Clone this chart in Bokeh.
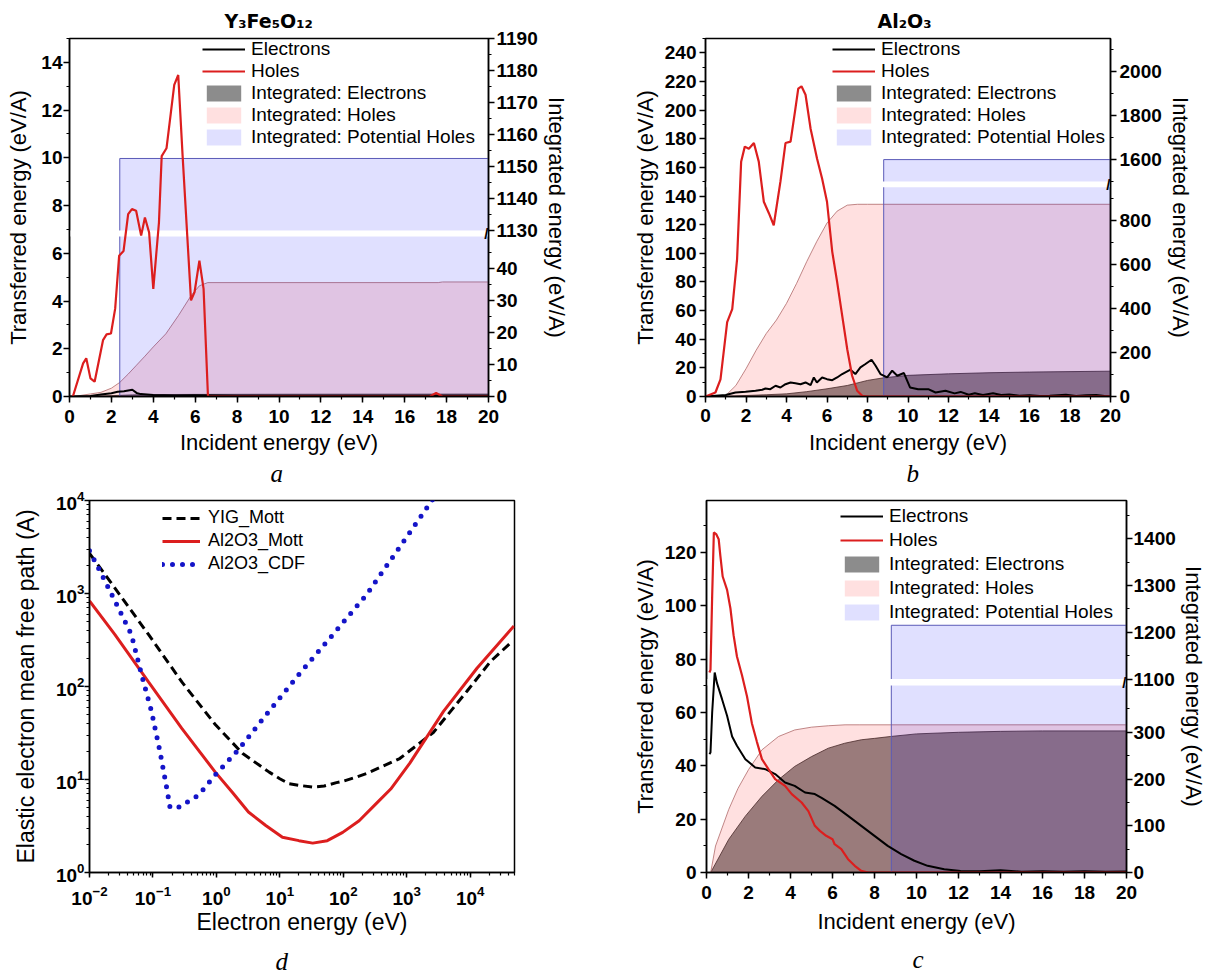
from bokeh.plotting import figure
from bokeh.models import (Range1d, LinearAxis, FixedTicker, SingleIntervalTicker,
                          CustomJSTickFormatter, CustomJSTransform, ColumnDataSource,
                          Legend, LegendItem, Label, BoxAnnotation, Title)
from bokeh.transform import transform
from bokeh.layouts import row, column
from bokeh.embed import file_html
from bokeh.resources import INLINE

# ======================= DATA =======================
# ---- (a) Y3Fe5O12 ----
a_holes_x = [0.16, 0.65, 0.8, 1.0, 1.2, 1.6, 1.77, 1.98, 2.18, 2.37, 2.58, 2.8, 2.98, 3.18, 3.42, 3.6,
             3.8, 4.0, 4.27, 4.4, 4.63, 4.84, 5.0, 5.19, 5.4, 5.8, 5.97, 6.2, 6.4, 6.61, 8, 10, 12, 14,
             16, 17.2, 17.5, 17.8, 20]
a_holes_y = [0, 1.39, 1.6, 0.76, 0.62, 2.36, 2.6, 2.64, 3.68, 5.9, 6.1, 7.64, 7.85, 7.78, 6.74, 7.5,
             6.87, 4.51, 7.29, 10.07, 10.4, 11.9, 13.06, 13.47, 10.07, 4.03, 4.38, 5.69, 4.51, 0, 0, 0, 0, 0,
             0, 0, 0.15, 0, 0]
a_el_x = [0, 1.0, 1.5, 2.0, 2.3, 2.6, 3.0, 3.2, 3.4, 4.0, 5, 6, 8, 10, 12, 14, 16, 18, 20]
a_el_y = [0, 0.02, 0.08, 0.14, 0.2, 0.22, 0.28, 0.15, 0.1, 0.06, 0.04, 0.05, 0.03, 0.03, 0.03, 0.03, 0.03, 0.03, 0.03]
a_int_holes_x = [0.3, 0.5, 1.0, 1.5, 2.0, 2.4, 2.8, 3.2, 3.6, 4.0, 4.6, 5.2, 5.8, 6.2, 6.6, 17.6, 17.8, 20]
a_int_holes_y = [0, 0.3, 0.8, 1.3, 2.6, 4.4, 7.0, 9.8, 12.6, 15.5, 19.6, 25.3, 31.5, 34.6, 35.6, 35.6, 35.8, 35.8]
a_int_el_x = [0, 1, 2, 3, 4, 6, 10, 20]
a_int_el_y = [0, 0.05, 0.25, 0.5, 0.6, 0.65, 0.7, 0.75]
a_pot_x = [2.4, 2.4, 20]
a_pot_y = [0, 1152.5, 1152.5]
a_break = [50, 1130, 1190]          # lower-segment top, upper-segment bottom, upper-segment top
a_right_ticks = [0, 10, 20, 30, 40, 1130, 1140, 1150, 1160, 1170, 1180, 1190]
a_right_minor = [5, 15, 25, 35, 45, 1135, 1145, 1155, 1165, 1175, 1185]

# ---- (b) Al2O3 ----
b_holes_x = [0, 0.49, 0.74, 1.07, 1.32, 1.56, 1.76, 1.94, 2.14, 2.39, 2.63, 2.88, 3.13, 3.37, 3.7, 3.95,
             4.2, 4.44, 4.58, 4.74, 4.94, 5.19, 5.51, 5.76, 6.0, 6.26, 6.5, 6.75, 7.0, 7.24, 7.49, 7.74, 8.0, 20]
b_holes_y = [0, 2.8, 12, 52, 61, 96, 164, 174.5, 173, 177, 164, 136, 128, 119.6, 150, 177,
             178, 201, 215, 216.6, 210.7, 187, 166, 152, 136, 101, 80, 56.5, 33, 14.5, 4, 0.5, 0, 0]
b_el_x = [0, 1.0, 1.48, 1.98, 2.47, 2.8, 2.96, 3.2, 3.46, 3.7, 3.95, 4.2, 4.44, 4.69, 4.94, 5.19, 5.35, 5.5,
          5.76, 6.0, 6.26, 6.5, 6.75, 7.16, 7.4, 7.65, 7.9, 8.2, 8.4, 8.64, 8.97, 9.22, 9.47, 9.8, 10.1,
          10.5, 11.0, 11.36, 11.85, 12.3, 12.6, 13.0, 13.3, 13.7, 14.2, 14.6, 15.0, 15.5, 16.0, 16.5,
          17.0, 17.8, 18.3, 18.8, 19.3, 19.7, 20]
b_el_y = [0, 1, 2.8, 3.3, 4, 4.7, 5.6, 5.1, 7.5, 6.3, 8.6, 9.8, 9.3, 8.6, 9.8, 7.9, 13.3, 9.8,
          13.3, 12.1, 11.4, 13.3, 15.7, 18.7, 15.7, 20.3, 22.7, 25.7, 21.5, 15.7, 13.3, 18, 14.5, 16.4, 6.3,
          5.1, 5.1, 2.8, 4, 2.2, 3.2, 1.2, 2.3, 1.0, 2.2, 1.0, 1.4, 0.6, 0.8, 0.4,
          0.6, 1.2, 0.4, 0.8, 1.0, 0.3, 0.2]
b_int_holes_x = [0.8, 1.0, 1.5, 2.0, 2.5, 3.0, 3.5, 4.0, 4.5, 5.0, 5.5, 6.0, 6.5, 7.0, 7.5, 8.0, 20]
b_int_holes_y = [0, 4.5, 50, 126, 210, 286, 347, 423, 514, 613, 705, 788, 842, 869, 873, 873, 873]
b_int_el_x = [0.8, 2, 3, 4, 5, 6, 7, 8, 8.8, 10, 12, 14, 16, 18, 20]
b_int_el_y = [0, 4.5, 8, 12, 22, 35, 50, 73, 85, 96, 103, 108, 111, 113, 115]
b_pot_x = [8.8, 8.8, 20]
b_pot_y = [0, 1600, 1600]
b_break = [950, 1500, 2150]
b_right_ticks = [0, 200, 400, 600, 800, 1600, 1800, 2000]
b_right_minor = [100, 300, 500, 700, 900, 1500, 1700, 1900, 2100]

# ---- (c) ----
c_holes_x = [0.14, 0.19, 0.27, 0.35, 0.46, 0.58, 0.66, 0.77, 0.98, 1.14, 1.29, 1.45, 1.69, 1.93, 2.16, 2.4,
             2.64, 2.95, 3.27, 3.74, 4.06, 4.53, 4.85, 5.16, 5.4, 5.7, 6.0, 6.1, 6.42, 6.74, 7.06, 7.37, 7.7, 20]
c_holes_y = [75, 76, 103.75, 127.5, 126.9, 125, 118.75, 111, 106, 99, 89, 81, 74, 66, 56, 49,
             42.5, 38.75, 35, 32.5, 29.4, 26.25, 23, 17.5, 15.6, 13.75, 12.5, 10.6, 8.75, 5, 2.5, 0.6, 0, 0]
c_el_x = [0.14, 0.19, 0.27, 0.39, 0.5, 0.74, 0.98, 1.22, 1.45, 1.85, 2.32, 2.8, 3.27, 3.74, 4.2, 4.69,
          5.16, 5.48, 6.1, 6.74, 7.37, 8.0, 8.63, 9.27, 9.9, 10.53, 11.32, 12.1, 13, 14, 15, 16, 17, 18, 19, 20]
c_el_y = [44.4, 45, 60, 75, 71, 65, 58.75, 51, 47.5, 42.5, 39.4, 38.75, 36.9, 33.75, 32.5, 30,
          29.4, 28, 25, 21.25, 17.5, 13.75, 10, 6.9, 4.4, 2.5, 1.25, 0.6, 0.5, 0.8, 0.3, 0.5, 0.3, 0.5, 0.3, 0.4]
c_int_holes_x = [0.2, 0.43, 1.06, 1.5, 2.0, 2.64, 3.43, 4.2, 5.0, 5.8, 6.6, 7.3, 20]
c_int_holes_y = [0, 56.7, 135, 180, 220, 262.5, 291, 305, 311, 314, 316, 316, 316]
c_int_el_x = [0.2, 1.06, 1.85, 2.64, 3.43, 4.2, 5.0, 5.8, 6.58, 7.37, 8.0, 8.76, 10, 12, 14, 16, 20]
c_int_el_y = [0, 71, 120.6, 163, 198.7, 227, 248, 266, 276.6, 284, 287, 291, 296.6, 300, 302, 303, 303]
c_pot_x = [8.8, 8.8, 20]
c_pot_y = [0, 1215, 1215]
c_break = [400, 1100, 1482]
c_right_ticks = [0, 100, 200, 300, 1100, 1200, 1300, 1400]
c_right_minor = [50, 150, 250, 350, 1150, 1250, 1350, 1450]

# ---- (d) elastic mean free path ----
d_yig_E = [0.01, 0.025, 0.085, 0.285, 0.96, 2.6, 6.8, 10, 14, 20, 33, 50, 78, 100, 160, 234, 776, 2630, 8900, 21000, 47000]
d_yig_L = [2700, 1150, 363, 112, 39, 19, 12, 10.2, 9.0, 8.65, 8.3, 8.5, 9.25, 9.6, 10.6, 11.6, 16.8, 32, 89, 186, 310]
d_mott_E = [0.01, 0.025, 0.085, 0.285, 0.96, 1.78, 3.2, 6.0, 11, 20, 33, 56, 98, 178, 330, 560, 1120, 3800, 12900, 49000]
d_mott_L = [830, 363, 112, 35.5, 12, 7.3, 4.47, 3.2, 2.39, 2.2, 2.07, 2.2, 2.7, 3.6, 5.5, 7.9, 15, 54, 158, 447]
d_cdf_E = [0.01, 0.0174, 0.0282, 0.0457, 0.066, 0.095, 0.129, 0.166, 0.186, 0.251, 0.525, 0.96, 2.24, 6.0,
           20, 69, 234, 776, 2630]
d_cdf_L = [2880, 1380, 708, 363, 135, 54, 20, 7.9, 5.0, 5.0, 6.8, 11.2, 21, 49, 135, 363, 977, 3160, 10500]

# ======================= STYLE =======================
FONT = "Liberation Sans"
RED = "#dc1e1e"
BLUE_DOT = "#1414c8"


def brk(v, b, gap):
    L, U = b[0], b[1]
    return v if v <= L else v - U + L + gap


def style_axis(ax, lab_so, title_so, title_size="22px", tick_out=6):
    ax.major_label_text_font = FONT
    ax.major_label_text_font_style = "bold"
    ax.major_label_text_font_size = "19px"
    ax.major_label_text_color = "black"
    ax.axis_label_text_font = FONT
    ax.axis_label_text_font_style = "normal"
    ax.axis_label_text_font_size = title_size
    ax.axis_label_text_color = "black"
    ax.axis_line_color = "black"
    ax.axis_line_width = 1.5
    ax.major_tick_line_color = "black"
    ax.major_tick_line_width = 1.5
    ax.minor_tick_line_color = "black"
    ax.minor_tick_line_width = 1.2
    ax.major_tick_in = 0
    ax.major_tick_out = tick_out
    ax.minor_tick_in = 0
    ax.minor_tick_out = 3
    ax.major_label_standoff = lab_so
    ax.axis_label_standoff = title_so


def add_letter(p, letter, offset, spacer):
    p.add_layout(Title(text=" ", text_font_size="1px", standoff=spacer), "below")
    p.add_layout(Title(text=letter, align="left", offset=offset, vertical_align="bottom", standoff=-6,
                       text_font="Liberation Serif", text_font_style="italic",
                       text_font_size="25px", text_color="black"), "below")


def energy_panel(w, h, bl, br, bt, bb, ymax, yint, brk_def, gap, rticks, rminor,
                 hx, hy, ex, ey, ihx, ihy, iex, iey, px, py,
                 leg_xy, leg_spacing, so, title, title_off, letter, letter_off, spacer):
    L, U, Utop = brk_def
    p = figure(width=w, height=h, x_range=Range1d(0, 20), y_range=Range1d(0, ymax),
               output_backend="svg", toolbar_location=None,
               min_border_left=bl, min_border_right=br, min_border_top=bt, min_border_bottom=bb)
    p.extra_y_ranges = {"right": Range1d(0, L + gap + (Utop - U))}
    p.grid.visible = False
    p.outline_line_color = "black"
    p.outline_line_width = 1.5
    p.background_fill_color = "white"
    p.border_fill_color = "white"

    tr = CustomJSTransform(args=dict(L=L, G=gap, U=U),
                           func="return (x <= L) ? x : x - U + L + G",
                           v_func="""
const out = new Float64Array(xs.length)
for (let i = 0; i < xs.length; i++) {
  const v = xs[i]
  out[i] = (v <= L) ? v : v - U + L + G
}
return out
""")
    s_ie = ColumnDataSource(dict(x=iex, y=iey))
    s_ih = ColumnDataSource(dict(x=ihx, y=ihy))
    s_p = ColumnDataSource(dict(x=px, y=py))

    r_ie = p.varea(x="x", y1=0, y2=transform("y", tr), source=s_ie, y_range_name="right",
                   fill_color="black", fill_alpha=0.45, level="image")
    p.line(x="x", y=transform("y", tr), source=s_ie, y_range_name="right",
           line_color="#303030", line_width=0.8, level="image")
    r_ih = p.varea(x="x", y1=0, y2=transform("y", tr), source=s_ih, y_range_name="right",
                   fill_color="#ff0000", fill_alpha=0.12, level="image")
    p.line(x="x", y=transform("y", tr), source=s_ih, y_range_name="right",
           line_color="#b06a6a", line_width=0.8, level="image")
    r_p = p.varea(x="x", y1=0, y2=transform("y", tr), source=s_p, y_range_name="right",
                  fill_color="#0000ff", fill_alpha=0.12, level="image")
    p.line(x="x", y=transform("y", tr), source=s_p, y_range_name="right",
           line_color="#5a5ab8", line_width=1.0, level="image")

    # white gap of the broken right axis
    p.add_layout(BoxAnnotation(bottom=L, top=L + gap, y_range_name="right", fill_color="white",
                               fill_alpha=1.0, line_alpha=0, level="underlay"))

    r_el = p.line(ex, ey, line_color="black", line_width=2)
    r_h = p.line(hx, hy, line_color=RED, line_width=2.2)

    # axes
    p.xaxis.ticker = SingleIntervalTicker(interval=2, num_minor_ticks=2)
    p.yaxis.ticker = SingleIntervalTicker(interval=yint, num_minor_ticks=2)
    p.xaxis.axis_label = "Incident energy (eV)"
    p.yaxis.axis_label = "Transferred energy (eV/A)"
    style_axis(p.xaxis[0], so["x"][0], so["x"][1])
    style_axis(p.yaxis[0], so["l"][0], so["l"][1])

    ax_r = LinearAxis(y_range_name="right", axis_label="Integrated energy (eV/A)",
                      ticker=FixedTicker(ticks=[brk(t, brk_def, gap) for t in rticks],
                                         minor_ticks=[brk(t, brk_def, gap) for t in rminor]),
                      formatter=CustomJSTickFormatter(
                          args=dict(L=L, G=gap, U=U),
                          code="const v = (tick <= L + 1e-6) ? tick : tick - L - G + U; return Math.round(v).toString()"))
    style_axis(ax_r, so["r"][0], so["r"][1])
    p.add_layout(ax_r, "right")

    # break mark on the right axis
    p.add_layout(Label(x=20, y=L + gap / 2, y_range_name="right", text="//", text_font=FONT,
                       text_font_size="15px", text_font_style="bold", text_align="center",
                       text_baseline="middle", text_color="black"))

    legend = Legend(items=[LegendItem(label="Electrons", renderers=[r_el]),
                           LegendItem(label="Holes", renderers=[r_h]),
                           LegendItem(label="Integrated: Electrons", renderers=[r_ie]),
                           LegendItem(label="Integrated: Holes", renderers=[r_ih]),
                           LegendItem(label="Integrated: Potential Holes", renderers=[r_p])],
                    location=leg_xy)
    legend.label_text_font = FONT
    legend.label_text_font_size = "19px"
    legend.label_text_color = "black"
    legend.glyph_width = 43
    legend.glyph_height = 20
    legend.label_height = 20
    legend.label_standoff = 6
    legend.spacing = leg_spacing
    legend.padding = 0
    legend.margin = 0
    legend.background_fill_alpha = 0
    legend.border_line_alpha = 0
    p.add_layout(legend, "center")

    if title:
        p.add_layout(Title(text=title, align="left", offset=title_off, standoff=13,
                           text_font="DejaVu Sans", text_font_style="bold", text_font_size="19px",
                           text_color="black"), "above")
    add_letter(p, letter, letter_off, spacer)
    return p


pa = energy_panel(600, 488, 69, 112, 38, 92, 15, 2, a_break, 1.9, a_right_ticks, a_right_minor,
                  a_holes_x, a_holes_y, a_el_x, a_el_y, a_int_holes_x, a_int_holes_y,
                  a_int_el_x, a_int_el_y, a_pot_x, a_pot_y,
                  (133, 248), 0, dict(x=(7, 4), l=(1, 7), r=(2, 3)),
                  "Y\u2083Fe\u2085O\u2081\u2082", 155, "a", 201, 0)

pb = energy_panel(608, 488, 105, 98, 38, 92, 250, 20, b_break, 26, b_right_ticks, b_right_minor,
                  b_holes_x, b_holes_y, b_el_x, b_el_y, b_int_holes_x, b_int_holes_y,
                  b_int_el_x, b_int_el_y, b_pot_x, b_pot_y,
                  (127, 248), 0, dict(x=(6, 5), l=(3, 4), r=(3, 3)),
                  "Al\u2082O\u2083", 172, "b", 201, 0)

pc = energy_panel(608, 485, 106, 80, 12, 101, 139.5, 20, c_break, 14, c_right_ticks, c_right_minor,
                  c_holes_x, c_holes_y, c_el_x, c_el_y, c_int_holes_x, c_int_holes_y,
                  c_int_el_x, c_int_el_y, c_pot_x, c_pot_y,
                  (134, 249), 2, dict(x=(7, 7), l=(4, 4), r=(1, 2)),
                  None, 0, "c", 206, 7)

# ---- panel d ----
pd = figure(width=600, height=485, x_axis_type="log", y_axis_type="log",
            x_range=Range1d(0.01, 5e4), y_range=Range1d(1, 1e4),
            output_backend="svg", toolbar_location=None,
            min_border_left=89, min_border_right=86, min_border_top=12, min_border_bottom=101)
pd.grid.visible = False
pd.outline_line_color = "black"
pd.outline_line_width = 1.5
r1 = pd.line(d_yig_E, d_yig_L, line_color="black", line_width=3, line_dash="9 5")
r2 = pd.line(d_mott_E, d_mott_L, line_color=RED, line_width=3)
r3 = pd.line(d_cdf_E, d_cdf_L, line_color=BLUE_DOT, line_width=5, line_dash="0 10", line_cap="round")
pd.xaxis.axis_label = "Electron energy (eV)"
pd.yaxis.axis_label = "Elastic electron mean free path (A)"
style_axis(pd.xaxis[0], 8, 1, "23px", 5)
style_axis(pd.yaxis[0], 0, 14, "23px", 5)
leg_d = Legend(items=[LegendItem(label="YIG_Mott", renderers=[r1]),
                      LegendItem(label="Al2O3_Mott", renderers=[r2]),
                      LegendItem(label="Al2O3_CDF", renderers=[r3])], location=(73, 298))
leg_d.label_text_font = FONT
leg_d.label_text_font_size = "18px"
leg_d.label_text_color = "black"
leg_d.glyph_width = 38
leg_d.glyph_height = 20
leg_d.label_height = 20
leg_d.label_standoff = 8
leg_d.spacing = 2
leg_d.padding = 0
leg_d.margin = 0
leg_d.background_fill_alpha = 0
leg_d.border_line_alpha = 0
pd.add_layout(leg_d, "center")
add_letter(pd, "d", 186, 8)

layout = column(row(pa, pb), row(pd, pc))
open("out.html", "w").write(file_html(layout, INLINE))
